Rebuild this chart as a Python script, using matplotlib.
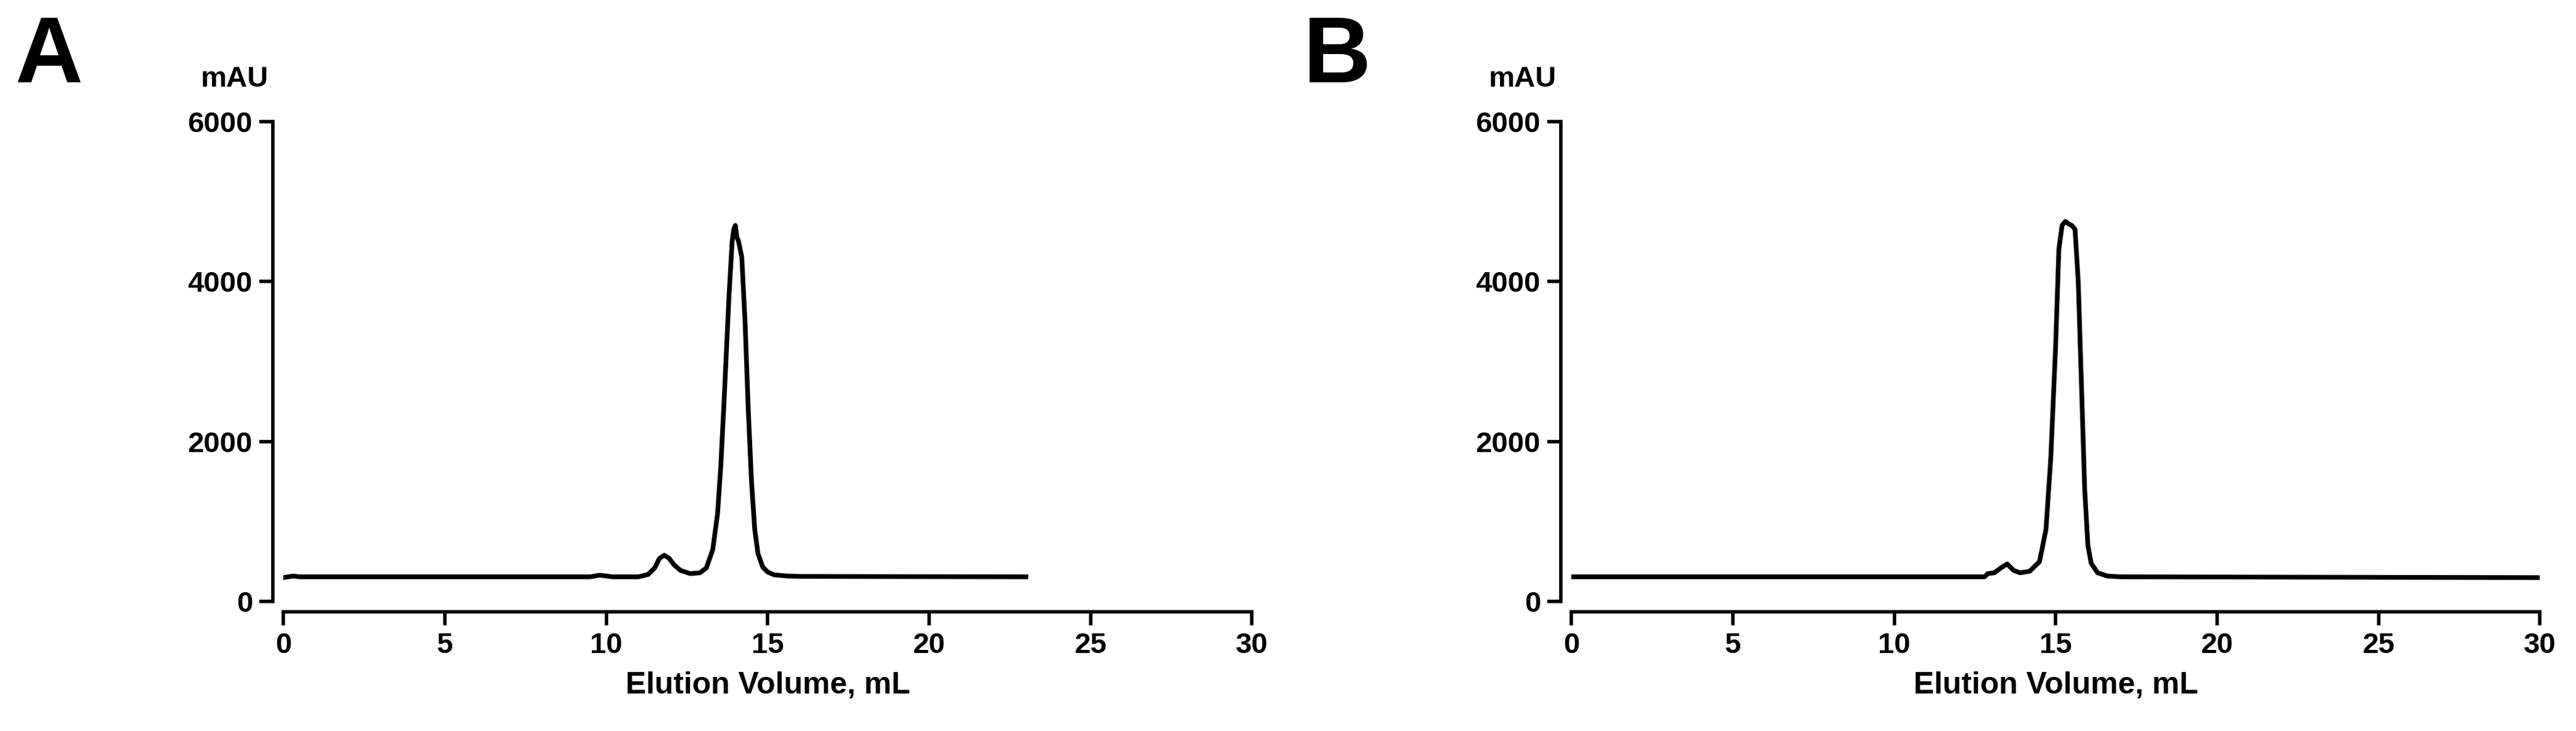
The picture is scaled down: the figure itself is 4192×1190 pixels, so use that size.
import matplotlib
matplotlib.use('Agg')
import matplotlib.pyplot as plt

plt.rcParams['font.family'] = ['Liberation Sans', 'DejaVu Sans']
plt.rcParams['font.weight'] = 'bold'

# trace A
a_x = [0, 0.3, 0.5, 9.5, 9.8, 10.2, 11.0, 11.3, 11.5, 11.65, 11.8, 11.95, 12.1, 12.3, 12.6, 12.9,
       13.1, 13.3, 13.45, 13.55, 13.65, 13.8, 13.9, 13.95, 14.0, 14.05, 14.1, 14.2, 14.3, 14.4,
       14.5, 14.6, 14.7, 14.85, 15.0, 15.2, 15.6, 16, 23]
a_y = [300, 320, 310, 310, 330, 310, 310, 340, 420, 540, 580, 540, 460, 390, 350, 360,
       420, 650, 1100, 1700, 2500, 3800, 4500, 4650, 4700, 4550, 4500, 4300, 3500, 2400,
       1500, 900, 600, 430, 370, 335, 320, 315, 310]
# trace B
b_x = [0, 12.8, 12.9, 13.1, 13.3, 13.5, 13.7, 13.9, 14.2, 14.5, 14.7, 14.85, 15.0, 15.1, 15.2,
       15.3, 15.4, 15.5, 15.6, 15.7, 15.8, 15.9, 16.0, 16.1, 16.3, 16.6, 17, 30]
b_y = [310, 310, 350, 360, 420, 470, 390, 360, 380, 500, 900, 1800, 3200, 4400, 4700,
       4750, 4720, 4700, 4650, 4000, 2700, 1400, 700, 480, 360, 320, 310, 300]

panels = [('A', a_x, a_y, 0.110), ('B', b_x, b_y, 0.610)]

fig = plt.figure(figsize=(41.92, 11.9), dpi=100)
for label, xs, ys, left in panels:
    ax = fig.add_axes([left, 0.177, 0.376, 0.657])
    ax.plot(xs, ys, color='black', lw=5.5)
    ax.set_xlim(0, 30)
    ax.set_ylim(0, 6000)
    ax.set_xticks([0, 5, 10, 15, 20, 25, 30])
    ax.set_yticks([0, 2000, 4000, 6000])
    for s in ['top', 'right']:
        ax.spines[s].set_visible(False)
    for s in ['left', 'bottom']:
        ax.spines[s].set_linewidth(4)
        ax.spines[s].set_position(('outward', 12))
    ax.tick_params(width=4, length=16, labelsize=34, pad=8)
    ax.set_xlabel('Elution Volume, mL', fontsize=36, fontweight='bold', labelpad=14)
    ax.text(-0.05, 1.06, 'mAU', transform=ax.transAxes, fontsize=34, fontweight='bold',
            ha='center', va='bottom')
    ax.text(-0.242, 1.04, label, transform=ax.transAxes, fontsize=110, fontweight='bold',
            ha='center', va='bottom')

fig.savefig('out.png', dpi=100, facecolor='white')
